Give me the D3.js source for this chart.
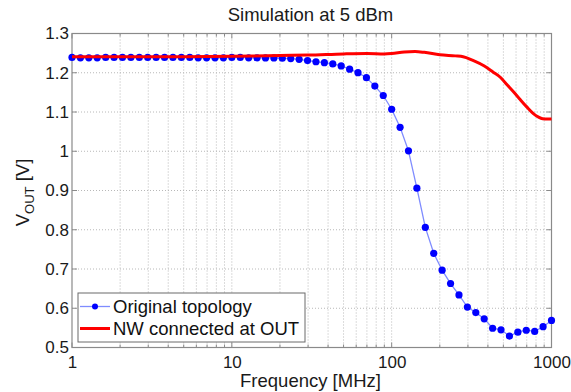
<!DOCTYPE html>
<html>
<head>
<meta charset="utf-8">
<script src="https://cdn.jsdelivr.net/npm/d3@7"></script>
<style>
  html, body { margin: 0; padding: 0; background: #fff; }
  svg { display: block; font-family: "Liberation Sans", Arial, Helvetica, sans-serif; }
</style>
</head>
<body>
<svg id="chart" width="571" height="392"></svg>
<script>
// Frequency sweep of the original topology (MHz), 19 points per decade
const sweepFreq = [
  1, 1.129, 1.274, 1.438, 1.624, 1.833, 2.069, 2.336, 2.637, 2.976,
  3.360, 3.793, 4.281, 4.833, 5.456, 6.158, 6.952, 7.848, 8.859, 10,
  11.29, 12.74, 14.38, 16.24, 18.33, 20.69, 23.36, 26.37, 29.76, 33.60,
  37.93, 42.81, 48.33, 54.56, 61.58, 69.52, 78.48, 88.59, 100, 112.9,
  127.4, 143.8, 162.4, 183.3, 206.9, 233.6, 263.7, 297.6, 336.0, 379.3,
  428.1, 483.3, 545.6, 615.8, 695.2, 784.8, 885.9, 1000
];
// Output voltage of the original topology (V)
const originalVout = [
  1.239, 1.238, 1.238, 1.238, 1.239, 1.239, 1.239, 1.239, 1.239, 1.239,
  1.239, 1.239, 1.239, 1.239, 1.239, 1.238, 1.238, 1.238, 1.238, 1.239,
  1.239, 1.238, 1.238, 1.2377, 1.2377, 1.237, 1.236, 1.2343, 1.231, 1.228,
  1.2257, 1.2224, 1.2173, 1.209, 1.2003, 1.1875, 1.166, 1.142, 1.107, 1.061,
  1.001, 0.906, 0.806, 0.740, 0.697, 0.663, 0.634, 0.603, 0.589, 0.573,
  0.549, 0.545, 0.529, 0.539, 0.544, 0.541, 0.553, 0.569
];
// Trace with the nanowire connected at OUT
const nwFreq = [
  1, 2, 5, 10, 20, 30, 50, 70, 90, 100, 120, 140, 160, 200, 250, 280,
  320, 380, 430, 480, 520, 580, 630, 700, 770, 830, 880, 950, 1000
];
const nwVout = [
  1.241, 1.241, 1.241, 1.242, 1.244, 1.245, 1.248, 1.249, 1.248, 1.249,
  1.253, 1.254, 1.252, 1.246, 1.243, 1.241, 1.232, 1.217, 1.202, 1.188,
  1.172, 1.151, 1.134, 1.113, 1.096, 1.087, 1.083, 1.082, 1.082
];
const xTickValues = [1, 10, 100, 1000];
const yTickValues = [0.5, 0.6, 0.7, 0.8, 0.9, 1, 1.1, 1.2, 1.3];
const seriesNames = ["Original topology", "NW connected at OUT"];

const svg = d3.select("#chart");
const margin = { left: 72, right: 19.5, top: 33.5, bottom: 44.5 };
const W = 571, H = 392;
const iw = W - margin.left - margin.right;
const ih = H - margin.top - margin.bottom;

const x = d3.scaleLog().domain([1, 1000]).range([margin.left, margin.left + iw]);
const y = d3.scaleLinear().domain([0.5, 1.3]).range([margin.top + ih, margin.top]);

// minor log positions for the grid
const minorX = [];
[1, 10, 100].forEach(d => { for (let m = 2; m <= 9; m++) minorX.push(d * m); });

const grid = svg.append("g").attr("class", "grid");
grid.selectAll("line.vx").data(minorX.concat([10, 100])).join("line")
  .attr("x1", d => x(d)).attr("x2", d => x(d))
  .attr("y1", margin.top).attr("y2", margin.top + ih)
  .attr("stroke", "#b8b8b8").attr("stroke-width", 1)
  .attr("stroke-dasharray", "1,2");
grid.selectAll("line.hy").data(yTickValues.slice(1, -1)).join("line")
  .attr("x1", margin.left).attr("x2", margin.left + iw)
  .attr("y1", d => y(d)).attr("y2", d => y(d))
  .attr("stroke", "#b8b8b8").attr("stroke-width", 1)
  .attr("stroke-dasharray", "1,2");

// axes
const axisColor = "#8a8a8a";
const tickFont = "17px";
const xAxis = d3.axisBottom(x).tickValues(xTickValues).tickFormat(d3.format("d")).tickSize(0).tickPadding(5);
const gx = svg.append("g").attr("transform", `translate(0,${margin.top + ih})`).call(xAxis);
gx.select(".domain").remove();
gx.selectAll("text").attr("font-size", tickFont).attr("fill", "#1a1a1a").attr("dy", "0.9em");

const yAxis = d3.axisLeft(y).tickValues(yTickValues).tickFormat(d => d3.format("")(+d.toFixed(1))).tickSize(0).tickPadding(3);
const gy = svg.append("g").attr("transform", `translate(${margin.left},0)`).call(yAxis);
gy.select(".domain").remove();
gy.selectAll("text").attr("font-size", tickFont).attr("fill", "#1a1a1a");

// inward tick marks on all four sides
const ticks = svg.append("g").attr("stroke", axisColor).attr("stroke-width", 1);
const allX = minorX.concat(xTickValues);
allX.forEach(d => {
  const major = xTickValues.includes(d);
  const len = major ? 5 : 3;
  ticks.append("line").attr("x1", x(d)).attr("x2", x(d))
    .attr("y1", margin.top + ih).attr("y2", margin.top + ih - len);
  ticks.append("line").attr("x1", x(d)).attr("x2", x(d))
    .attr("y1", margin.top).attr("y2", margin.top + len);
});
yTickValues.forEach(d => {
  ticks.append("line").attr("x1", margin.left).attr("x2", margin.left + 5)
    .attr("y1", y(d)).attr("y2", y(d));
  ticks.append("line").attr("x1", margin.left + iw).attr("x2", margin.left + iw - 5)
    .attr("y1", y(d)).attr("y2", y(d));
});

// plot frame
svg.append("rect").attr("x", margin.left).attr("y", margin.top)
  .attr("width", iw).attr("height", ih)
  .attr("fill", "none").attr("stroke", axisColor).attr("stroke-width", 1.2);

// series
const orig = sweepFreq.map((f, i) => [f, originalVout[i]]);
const nw = nwFreq.map((f, i) => [f, nwVout[i]]);

svg.append("path").datum(orig)
  .attr("d", d3.line().x(d => x(d[0])).y(d => y(d[1])))
  .attr("fill", "none").attr("stroke", "#7f8cff").attr("stroke-width", 1.3);
svg.append("g").selectAll("circle").data(orig).join("circle")
  .attr("cx", d => x(d[0])).attr("cy", d => y(d[1])).attr("r", 3.6)
  .attr("fill", "#0000ff");

svg.append("path").datum(nw)
  .attr("d", d3.line().curve(d3.curveMonotoneX).x(d => x(d[0])).y(d => y(d[1])))
  .attr("fill", "none").attr("stroke", "#ff0000").attr("stroke-width", 3);

// title and axis labels
svg.append("text").attr("x", 310.5).attr("y", 21).attr("text-anchor", "middle")
  .attr("font-size", "18.5px").attr("fill", "#1a1a1a").text("Simulation at 5 dBm");

svg.append("text").attr("x", 310.5).attr("y", 387).attr("text-anchor", "middle")
  .attr("font-size", "18.5px").attr("fill", "#1a1a1a").text("Frequency [MHz]");

const yl = svg.append("text")
  .attr("transform", `translate(28.5,${margin.top + ih / 2 + 2}) rotate(-90)`)
  .attr("text-anchor", "middle").attr("font-size", "18.5px").attr("fill", "#1a1a1a");
yl.append("tspan").text("V");
yl.append("tspan").attr("font-size", "13px").attr("dy", "5").text("OUT");
yl.append("tspan").attr("dy", "-5").text(" [V]");

// legend
const lg = svg.append("g");
lg.append("rect").attr("x", 78).attr("y", 293).attr("width", 227).attr("height", 49)
  .attr("fill", "#fff").attr("stroke", "#6a6a6a").attr("stroke-width", 1);
const rows = [306.5, 328.5];
lg.append("line").attr("x1", 80).attr("x2", 110).attr("y1", rows[0]).attr("y2", rows[0])
  .attr("stroke", "#7f8cff").attr("stroke-width", 1.3);
lg.append("circle").attr("cx", 95).attr("cy", rows[0]).attr("r", 3).attr("fill", "#0000ff");
lg.append("line").attr("x1", 80).attr("x2", 110).attr("y1", rows[1]).attr("y2", rows[1])
  .attr("stroke", "#ff0000").attr("stroke-width", 3);
seriesNames.forEach((s, i) => {
  lg.append("text").attr("x", 113).attr("y", rows[i]).attr("dy", "0.36em")
    .attr("font-size", "18.5px").attr("fill", "#111").text(s);
});
</script>
</body>
</html>
